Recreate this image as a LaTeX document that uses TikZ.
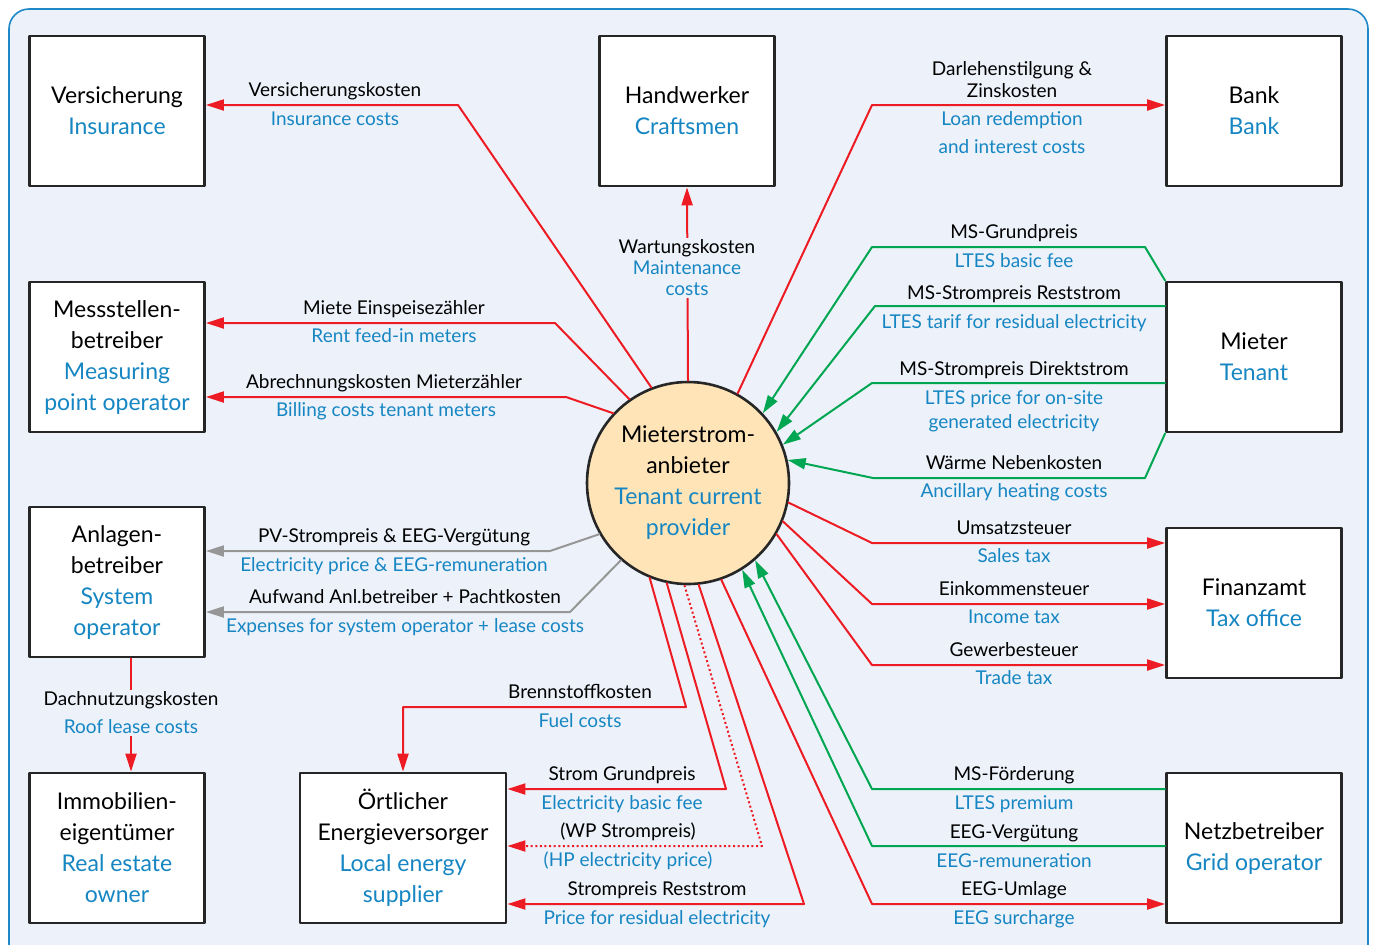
\documentclass[tikz,border=0pt]{standalone}
\usepackage{fontspec}
\setmainfont{Lato}
\usetikzlibrary{arrows.meta}
\definecolor{bgblue}{RGB}{237,242,250}
\definecolor{frame}{RGB}{30,136,200}
\definecolor{tblue}{RGB}{22,134,195}
\definecolor{mred}{RGB}{237,28,36}
\definecolor{mgreen}{RGB}{0,166,81}
\definecolor{mgray}{RGB}{150,150,150}
\definecolor{peach}{RGB}{254,228,183}
\begin{document}
\begin{tikzpicture}[line cap=round,line join=round,x=0.5pt,y=-0.5pt,>={Triangle[length=9pt,width=5.5pt]},
    box/.style={draw=black!85, line width=1.4pt, fill=white, minimum width=87.5pt, minimum height=75pt, align=center, inner sep=0pt, font=\fontsize{11.5}{15.5}\selectfont},
    rd/.style={draw=mred, line width=1pt, ->},
    gn/.style={draw=mgreen, line width=1pt, ->},
    gy/.style={draw=mgray, line width=1pt, ->},
    lblde/.style={anchor=base, inner sep=0pt, font=\fontsize{9.5}{10.5}\selectfont},
    lblen/.style={lblde, text=tblue}]
    \useasboundingbox (0,0) rectangle (1374,944);
    \filldraw[fill=bgblue, draw=frame, line width=0.8pt, rounded corners=10pt] (9,9) rectangle (1368,964);

    % boxes
    \node[box] (vers) at (117,111) {Versicherung\\\textcolor{tblue}{Insurance}};
    \node[box] (handw) at (687,111) {Handwerker\\\textcolor{tblue}{Craftsmen}};
    \node[box] (bank) at (1254,111) {Bank\\\textcolor{tblue}{Bank}};
    \node[box] (mess) at (117,357) {Messstellen-\\betreiber\\\textcolor{tblue}{Measuring}\\\textcolor{tblue}{point operator}};
    \node[box] (mieter) at (1254,357) {Mieter\\\textcolor{tblue}{Tenant}};
    \node[box] (anl) at (117,582) {Anlagen-\\betreiber\\\textcolor{tblue}{System}\\\textcolor{tblue}{operator}};
    \node[box] (finanz) at (1254,603) {Finanzamt\\\textcolor{tblue}{Tax office}};
    \node[box] (immo) at (117,848) {Immobilien-\\eigentümer\\\textcolor{tblue}{Real estate}\\\textcolor{tblue}{owner}};
    \node[box, minimum width=103pt] (oev) at (403,848) {Örtlicher\\Energieversorger\\\textcolor{tblue}{Local energy}\\\textcolor{tblue}{supplier}};
    \node[box] (netz) at (1254,848) {Netzbetreiber\\\textcolor{tblue}{Grid operator}};

    % provider
    \node[circle, draw=black!85, line width=1.3pt, fill=peach, minimum size=101pt, align=center, inner sep=0pt, font=\fontsize{11.5}{15.5}\selectfont] (prov) at (688,483)
        {Mieterstrom-\\anbieter\\\textcolor{tblue}{Tenant current}\\\textcolor{tblue}{provider}};

    % top row
    \draw[rd] (prov.111) -- (458,105) -- (vers.east |- 0,105);
    \node[lblde] (versde) at (335,96) {Versicherungskosten};
    \node[lblen] (versen) at (335,125) {Insurance costs};

    \draw[rd] (prov.north) -- (handw.south);
    \node[fill=bgblue, inner sep=1pt, align=center, font=\fontsize{9.5}{10.5}\selectfont] (wart) at (687,268)
        {Wartungskosten\\\textcolor{tblue}{Maintenance}\\\textcolor{tblue}{costs}};

    \draw[rd] (prov.61) -- (872,105) -- (bank.west |- 0,105);
    \node[lblde] (bankde1) at (1012,75) {Darlehenstilgung \&};
    \node[lblde] (bankde2) at (1012,97) {Zinskosten};
    \node[lblen] (banken1) at (1012,125) {Loan redemption};
    \node[lblen] (banken2) at (1012,153) {and interest costs};

    % Messstellenbetreiber
    \draw[rd] (prov.125) -- (555,323) -- (mess.east |- 0,323);
    \node[lblde] (messde1) at (394,314) {Miete Einspeisezähler};
    \node[lblen] (messen1) at (394,342) {Rent feed-in meters};
    \draw[rd] (prov.137) -- (566,397) -- (mess.east |- 0,397);
    \node[lblde] (messde2) at (384,388) {Abrechnungskosten Mieterzähler};
    \node[lblen] (messen2) at (386,416) {Billing costs tenant meters};

    % Anlagenbetreiber
    \draw[gy] (prov.210) -- (550,551) -- (anl.east |- 0,551);
    \node[lblde] (anlde1) at (394,542) {PV-Strompreis \& EEG-Vergütung};
    \node[lblen] (anlen1) at (394,571) {Electricity price \& EEG-remuneration};
    \draw[gy] (prov.229) -- (570,612) -- (anl.east |- 0,612);
    \node[lblde] (anlde2) at (405,603) {Aufwand Anl.betreiber + Pachtkosten};
    \node[lblen] (anlen2) at (405,632) {Expenses for system operator + lease costs};

    \draw[rd] (anl.south -| 131,0) -- (immo.north -| 131,0);
    \node[fill=bgblue, inner sep=1pt, align=center, font=\fontsize{9.5}{14}\selectfont] (dach) at (131,713)
        {Dachnutzungskosten\\\textcolor{tblue}{Roof lease costs}};

    % Energieversorger
    \draw[rd] (prov.248) -- (686,707) -- (403,707) -- (oev.north);
    \node[lblde] (oevde1) at (580,698) {Brennstoffkosten};
    \node[lblen] (oeven1) at (580,727) {Fuel costs};
    \draw[rd] (prov.258) -- (726,789) -- (oev.east |- 0,789);
    \node[lblde] (oevde2) at (622,780) {Strom Grundpreis};
    \node[lblen] (oeven2) at (622,809) {Electricity basic fee};
    \draw[rd, line cap=butt, dash pattern=on 1pt off 1.3pt] (prov.268) -- (762,846) -- (oev.east |- 0,846);
    \node[lblde] (oevde3) at (628,837) {(WP Strompreis)};
    \node[lblen] (oeven3) at (628,866) {(HP electricity price)};
    \draw[rd] (prov.276) -- (804,904) -- (oev.east |- 0,904);
    \node[lblde] (oevde4) at (657,895) {Strompreis Reststrom};
    \node[lblen] (oeven4) at (657,924) {Price for residual electricity};

    % Netzbetreiber
    \draw[rd] (prov.289) -- (872,904) -- (netz.west |- 0,904);
    \node[lblde] (netzde3) at (1014,895) {EEG-Umlage};
    \node[lblen] (netzen3) at (1014,924) {EEG surcharge};
    \draw[gn] (netz.west |- 0,789) -- (872,789) -- (prov.311);
    \node[lblde] (netzde1) at (1014,780) {MS-Förderung};
    \node[lblen] (netzen1) at (1014,809) {LTES premium};
    \draw[gn] (netz.west |- 0,846) -- (872,846) -- (prov.302);
    \node[lblde] (netzde2) at (1014,838) {EEG-Vergütung};
    \node[lblen] (netzen2) at (1014,867) {EEG-remuneration};

    % Finanzamt
    \draw[rd] (prov.349) -- (872,543) -- (finanz.west |- 0,543);
    \node[lblde] (finde1) at (1014,534) {Umsatzsteuer};
    \node[lblen] (finen1) at (1014,562) {Sales tax};
    \draw[rd] (prov.338) -- (872,604) -- (finanz.west |- 0,604);
    \node[lblde] (finde2) at (1014,595) {Einkommensteuer};
    \node[lblen] (finen2) at (1014,623) {Income tax};
    \draw[rd] (prov.330) -- (872,665) -- (finanz.west |- 0,665);
    \node[lblde] (finde3) at (1014,656) {Gewerbesteuer};
    \node[lblen] (finen3) at (1014,684) {Trade tax};

    % Mieter
    \draw[gn] (mieter.north west) -- (1145,247) -- (872,247) -- (prov.43);
    \node[lblde] (miede1) at (1014,238) {MS-Grundpreis};
    \node[lblen] (mieen1) at (1014,267) {LTES basic fee};
    \draw[gn] (mieter.west |- 0,306) -- (875,306) -- (prov.30);
    \node[lblde] (miede2) at (1014,299) {MS-Strompreis Reststrom};
    \node[lblen] (mieen2) at (1014,328) {LTES tarif for residual electricity};
    \draw[gn] (mieter.west |- 0,383) -- (872,383) -- (prov.22);
    \node[lblde] (miede3) at (1014,375) {MS-Strompreis Direktstrom};
    \node[lblen] (mieen3) at (1014,404) {LTES price for on-site};
    \node[lblen] (mieen4) at (1014,428) {generated electricity};
    \draw[gn] (mieter.south west) -- (1145,478) -- (873,478) -- (prov.13);
    \node[lblde] (miede5) at (1014,469) {Wärme Nebenkosten};
    \node[lblen] (mieen5) at (1014,497) {Ancillary heating costs};
\end{tikzpicture}
\end{document}
